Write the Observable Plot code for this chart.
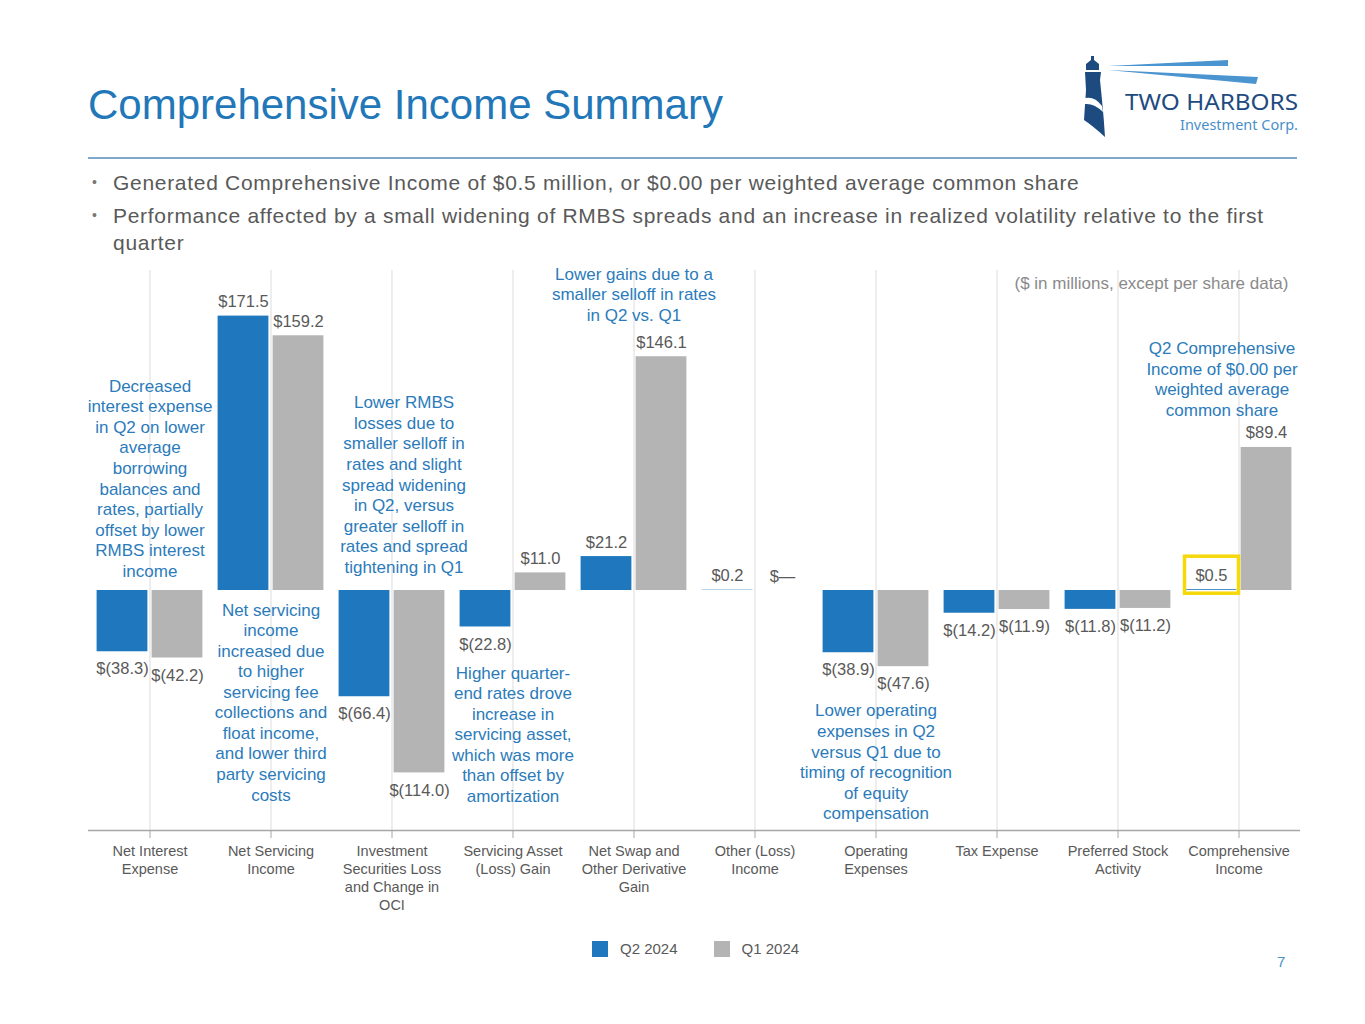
<!DOCTYPE html>
<html><head><meta charset="utf-8">
<script src="https://cdn.jsdelivr.net/npm/d3@7"></script>
<script src="https://cdn.jsdelivr.net/npm/@observablehq/plot@0.6"></script>
<style>
body{margin:0;background:#fff;font-family:"Liberation Sans",Arial,sans-serif;}
#page{position:relative;width:1365px;height:1024px;overflow:hidden;background:#fff}
#title{position:absolute;left:88px;top:80px;line-height:50px;font-size:42px;color:#2277b8;white-space:nowrap}
#rule{position:absolute;left:88px;top:157px;width:1209px;height:2px;background:#7fa8cc}
#bullets{position:absolute;left:92px;top:169px;width:1220px;color:#595959;font-size:21px;line-height:27px;letter-spacing:0.7px}
.b{position:relative;padding-left:21px;margin-bottom:6px;white-space:nowrap}
.b:before{content:"•";position:absolute;left:0;top:0;font-size:14px;color:#777}
#chart{position:absolute;left:0;top:250px}
#legend{position:absolute;left:592px;top:940px;display:flex;align-items:center;font-size:15px;color:#595959}
.sw{width:16px;height:16px;margin-right:12px}
#pagenum{position:absolute;left:1277px;top:953px;font-size:15px;color:#4a90c8}
#logo{position:absolute;left:0;top:0}
</style></head><body>
<div id="page">
  <svg id="logo" width="1365" height="160"></svg>
  <div id="title">Comprehensive Income Summary</div>
  <div id="rule"></div>
  <div id="bullets"></div>
  <div id="chart"></div>
  <div id="legend"></div>
  <div id="pagenum">7</div>
</div>
<script>
// ---------- data ----------
const categories = ["Net Interest Expense","Net Servicing Income","Investment Securities Loss and Change in OCI","Servicing Asset (Loss) Gain","Net Swap and Other Derivative Gain","Other (Loss) Income","Operating Expenses","Tax Expense","Preferred Stock Activity","Comprehensive Income"];
const tickLabels = ["Net Interest\nExpense","Net Servicing\nIncome","Investment\nSecurities Loss\nand Change in\nOCI","Servicing Asset\n(Loss) Gain","Net Swap and\nOther Derivative\nGain","Other (Loss)\nIncome","Operating\nExpenses","Tax Expense","Preferred Stock\nActivity","Comprehensive\nIncome"];
const seriesNames = ["Q2 2024","Q1 2024"];
const q2 = [-38.3, 171.5, -66.4, -22.8, 21.2, 0.2, -38.9, -14.2, -11.8, 0.5];
const q1 = [-42.2, 159.2, -114.0, 11.0, 146.1, 0, -47.6, -11.9, -11.2, 89.4];
const notes = [
  {category: categories[0], anchor: "zero", text: "Decreased\ninterest expense\nin Q2 on lower\naverage\nborrowing\nbalances and\nrates, partially\noffset by lower\nRMBS interest\nincome"},
  {category: categories[1], anchor: "zero", text: "Net servicing\nincome\nincreased due\nto higher\nservicing fee\ncollections and\nfloat income,\nand lower third\nparty servicing\ncosts"},
  {category: categories[2], anchor: "zero", text: "Lower RMBS\nlosses due to\nsmaller selloff in\nrates and slight\nspread widening\nin Q2, versus\ngreater selloff in\nrates and spread\ntightening in Q1"},
  {category: categories[3], anchor: "q2", text: "Higher quarter-\nend rates drove\nincrease in\nservicing asset,\nwhich was more\nthan offset by\namortization"},
  {category: categories[4], anchor: "q1", text: "Lower gains due to a\nsmaller selloff in rates\nin Q2 vs. Q1"},
  {category: categories[6], anchor: "q1", text: "Lower operating\nexpenses in Q2\nversus Q1 due to\ntiming of recognition\nof equity\ncompensation"},
  {category: categories[9], anchor: "q1", text: "Q2 Comprehensive\nIncome of $0.00 per\nweighted average\ncommon share"}
];
const unitNote = "($ in millions, except per share data)";
const bullets = ["Generated Comprehensive Income of $0.5 million, or $0.00 per weighted average common share",
  "Performance affected by a small widening of RMBS spreads and an increase in realized volatility relative to the first<br>quarter"];

// ---------- style ----------
const FONT = "'Liberation Sans', Arial, sans-serif";
const BLUE = "#1f78be", GRAY = "#b4b4b4", NOTE = "#2b7bbb", LABEL = "#595959";

document.getElementById("bullets").innerHTML = bullets.map(b => `<div class="b">${b}</div>`).join("");
document.getElementById("legend").innerHTML =
  `<div class="sw" style="background:${BLUE}"></div><span style="margin-right:36px">${seriesNames[0]}</span>` +
  `<div class="sw" style="background:${GRAY}"></div><span>${seriesNames[1]}</span>`;

// logo
const logo = d3.select("#logo");
logo.append("polygon").attr("points","1108,66 1228,60 1228,66").attr("fill","#4a94d0");
logo.append("polygon").attr("points","1108,70 1258,77 1256,84").attr("fill","#4a94d0");
logo.append("path").attr("d","M1091,56 L1094,56 L1094,60 L1099,64 L1099,70 L1086,70 L1086,64 L1091,60 Z").attr("fill","#1e4b7f");
logo.append("path").attr("d","M1085,72 L1101,72 L1100,80 L1102,100 Q1104,120 1105,137 Q1093,126 1084,120 L1086,90 Z").attr("fill","#1e4b7f");
logo.append("path").attr("d","M1085,98 Q1095,96 1102,106 L1103,112 Q1094,103 1085,104 Z").attr("fill","#fff");
logo.append("text").attr("x",1125).attr("y",110).attr("font-family","Noto Sans").attr("font-size",21).attr("fill","#1e4b7f").attr("textLength",173).attr("lengthAdjust","spacingAndGlyphs").text("TWO HARBORS");
logo.append("text").attr("x",1180).attr("y",130).attr("font-family","Noto Sans").attr("font-size",14).attr("fill","#4a8fc9").attr("textLength",118).attr("lengthAdjust","spacingAndGlyphs").text("Investment Corp.");

// ---------- chart ----------
const rowsQ2 = categories.map((c, i) => ({category: c, series: seriesNames[0], value: q2[i]}));
const rowsQ1 = categories.map((c, i) => ({category: c, series: seriesNames[1], value: q1[i]}));
const fmt = v => v === 0 ? "$\u2014" : v < 0 ? `$(${(-v).toFixed(1)})` : `$${v.toFixed(1)}`;
const anchorValue = d => {
  const i = categories.indexOf(d.category);
  return d.anchor === "q2" ? q2[i] : d.anchor === "q1" ? q1[i] : 0;
};
const noteMark = (i, opts) => Plot.text([notes[i]], {
  x: "category", y: anchorValue, text: "text", fill: NOTE, fontSize: 17, lineHeight: 1.21, textAnchor: "middle", ...opts
});
const valueLabels = (rows, dx) => [
  Plot.text(rows.filter(d => d.value >= 0), {x: "category", y: "value", text: d => fmt(d.value), dx, dy: -9, lineAnchor: "bottom", fill: LABEL, fontSize: 16.5}),
  Plot.text(rows.filter(d => d.value < 0), {x: "category", y: "value", text: d => fmt(d.value), dx, dy: 11, lineAnchor: "top", fill: LABEL, fontSize: 16.5})
];

const marks = [
  Plot.ruleX(categories, {x: d => d, stroke: "#e2e2e2", strokeWidth: 1.2}),
  Plot.barY(rowsQ2, {x: "category", y: "value", fill: BLUE, insetLeft: 7.6, insetRight: 62.6}),
  Plot.barY(rowsQ1, {x: "category", y: "value", fill: GRAY, insetLeft: 62.6, insetRight: 7.6}),
  Plot.ruleY([-150], {stroke: "#a6a6a6", strokeWidth: 1.5}),
  Plot.text(categories, {x: d => d, y: () => -150, text: (d, i) => tickLabels[i], lineAnchor: "top", dy: 12.5, fill: LABEL, fontSize: 14.5, lineHeight: 1.24}),
  ...valueLabels(rowsQ2, -27.5),
  ...valueLabels(rowsQ1, 27.5),
  noteMark(0, {lineAnchor: "bottom", dy: -13.6}),
  noteMark(1, {lineAnchor: "top", dy: 10.4}),
  noteMark(2, {lineAnchor: "bottom", dy: -17.6, dx: 12}),
  noteMark(3, {lineAnchor: "top", dy: 37}),
  noteMark(4, {lineAnchor: "bottom", dy: -35.8}),
  noteMark(5, {lineAnchor: "top", dy: 35.2}),
  noteMark(6, {lineAnchor: "bottom", dy: -31.6, dx: -17}),
  Plot.text([unitNote], {frameAnchor: "top-right", text: d => d, textAnchor: "end", lineAnchor: "top", dx: -12, dy: 6.5, fill: "#8a8a8a", fontSize: 17})
];
if (Plot.axisX) marks.push(Plot.axisX({tickSize: 8, tickFormat: () => "", stroke: "#a6a6a6", label: null}));

const chart = Plot.plot({
  width: 1365, height: 680,
  marginTop: 20, marginBottom: 100, marginLeft: 88, marginRight: 65,
  style: {fontFamily: FONT, fontSize: "15px", color: LABEL, background: "transparent", overflow: "visible"},
  x: {domain: categories, padding: 0, axis: Plot.axisX ? undefined : null, label: null},
  y: {domain: [-150, 200], axis: null},
  marks
});
document.getElementById("chart").append(chart);

// highlight box around the Q2 comprehensive income label
const svgEl = chart.tagName.toLowerCase() === "svg" ? chart : chart.querySelector("svg");
const svg = d3.select(svgEl);
const sr = svgEl.getBoundingClientRect();
svg.selectAll("text").each(function() {
  if (this.textContent === "$0.5") {
    const r = this.getBoundingClientRect();
    const cx = r.left - sr.left + r.width / 2, cy = r.top - sr.top + r.height / 2;
    svg.append("rect").attr("x", cx - 27).attr("y", cy - 18.5).attr("width", 54).attr("height", 37)
      .attr("fill", "none").attr("stroke", "#f5d90a").attr("stroke-width", 3.5);
  }
});
</script>
</body></html>
